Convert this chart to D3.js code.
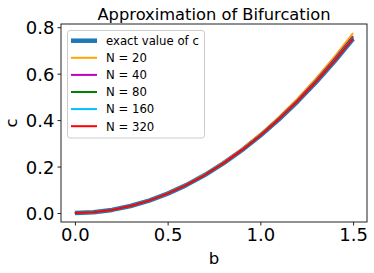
<!DOCTYPE html>
<html><head><meta charset="utf-8">
<script src="https://cdn.jsdelivr.net/npm/d3@7"></script>
<style>body{margin:0;background:#fff}svg{display:block}text{font-family:"DejaVu Sans",sans-serif;fill:#000}</style>
</head><body>
<svg id="c" width="374" height="273"></svg>
<script>
const bValues = [0,0.1,0.2,0.3,0.4,0.5,0.6,0.7,0.8,0.9,1.0,1.1,1.2,1.3,1.4,1.5];
const exactC = [0,0.0033,0.0133,0.03,0.0533,0.0833,0.12,0.1633,0.2133,0.27,0.3333,0.4033,0.48,0.5633,0.6533,0.75];
const cN20  = [0,0.0033,0.0134,0.0302,0.0537,0.0842,0.1216,0.1658,0.2171,0.2753,0.3407,0.4131,0.4926,0.5794,0.6734,0.775];
const cN40  = [0,0.0033,0.0134,0.0301,0.0535,0.0837,0.1208,0.1642,0.2151,0.2726,0.3369,0.4080,0.4861,0.5711,0.6631,0.762];
const cN80  = [0,0.0033,0.0133,0.0301,0.0534,0.0836,0.1204,0.1640,0.2144,0.2715,0.3354,0.4061,0.4836,0.5678,0.6590,0.757];
const cN160 = [0,0.0033,0.0133,0.0300,0.0534,0.0834,0.1203,0.1637,0.2139,0.2709,0.3345,0.4049,0.4820,0.5659,0.6566,0.754];
const cN320 = [0,0.0033,0.0133,0.0300,0.0533,0.0834,0.1202,0.1635,0.2136,0.2705,0.3339,0.4041,0.4810,0.5645,0.6550,0.752];
const seriesNames = ["exact value of c","N = 20","N = 40","N = 80","N = 160","N = 320"];
const seriesValues = [exactC,cN20,cN40,cN80,cN160,cN320];
const seriesColors = ["#1f77b4","#ffa500","#bf00bf","#008000","#00bfff","#ff0000"];
const xTicks = [0,0.5,1.0,1.5];
const yTicks = [0,0.2,0.4,0.6,0.8];

const svg = d3.select("#c");
const L=61, R=367, T=24, B=222;
const x = d3.scaleLinear().domain([-0.075,1.575]).range([L,R]);
const y = d3.scaleLinear().domain([-0.03875,0.81375]).range([B,T]);

const line = d3.line().x((d,i)=>x(bValues[i])).y(d=>y(d));
seriesValues.forEach((vals,k)=>{
  svg.append("path").datum(vals).attr("d",line).attr("fill","none")
    .attr("stroke",seriesColors[k]).attr("stroke-width",k===0?4.5:2)
    .attr("stroke-linejoin","round");
});

svg.append("rect").attr("x",L).attr("y",T).attr("width",R-L).attr("height",B-T)
  .attr("fill","none").attr("stroke","#222").attr("stroke-width",1);

const xa = svg.append("g").attr("transform",`translate(0,${B})`)
  .call(d3.axisBottom(x).tickValues(xTicks).tickFormat(d3.format(".1f")).tickSize(3.5).tickPadding(3));
const ya = svg.append("g").attr("transform",`translate(${L},0)`)
  .call(d3.axisLeft(y).tickValues(yTicks).tickFormat(d3.format(".1f")).tickSize(3.5).tickPadding(3));
[xa,ya].forEach(a=>{
  a.select(".domain").remove();
  a.selectAll("line").attr("stroke","#222");
  a.selectAll("text").style("font-family","DejaVu Sans").style("font-size","18px").attr("fill","#000");
});
ya.selectAll("text").attr("dy","0.36em");

svg.append("text").attr("x",214).attr("y",20).attr("text-anchor","middle")
  .style("font-size","16.3px").text("Approximation of Bifurcation");
svg.append("text").attr("x",214).attr("y",264).attr("text-anchor","middle")
  .style("font-size","16.5px").text("b");
svg.append("text").attr("transform","translate(17,123) rotate(-90)").attr("text-anchor","middle")
  .style("font-size","16.5px").text("c");

const lg = svg.append("g");
lg.append("rect").attr("x",67.5).attr("y",30.5).attr("width",137).attr("height",107.5)
  .attr("rx",2.5).attr("fill","#fff").attr("fill-opacity",0.8).attr("stroke","#ccc").attr("stroke-width",1);
seriesNames.forEach((n,k)=>{
  const yy = 40.7 + k*17.1;
  lg.append("line").attr("x1",71).attr("x2",97).attr("y1",yy).attr("y2",yy)
    .attr("stroke",seriesColors[k]).attr("stroke-width",k===0?4.5:2);
  lg.append("text").attr("x",106).attr("y",yy+4.3).style("font-size",'11.7px').text(n);
});
</script>
</body></html>
